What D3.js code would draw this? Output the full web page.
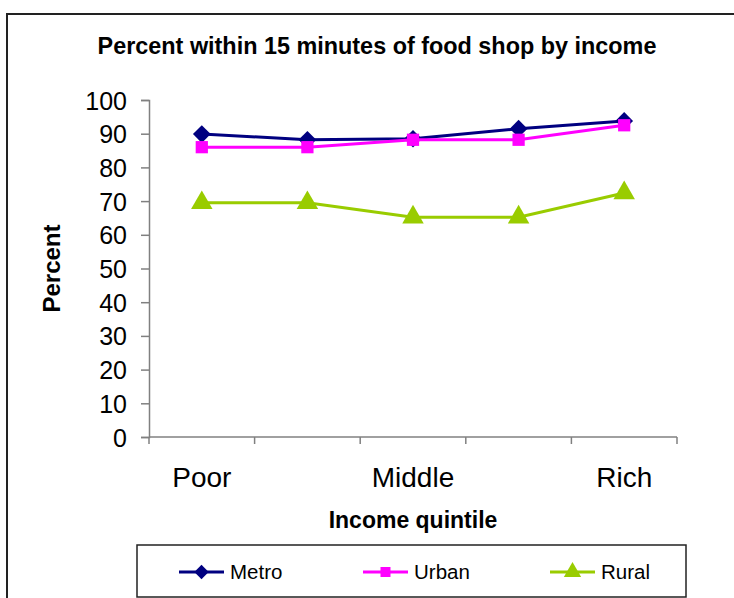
<!DOCTYPE html>
<html>
<head>
<meta charset="utf-8">
<script src="https://cdn.jsdelivr.net/npm/d3@7"></script>
<style>
  body { margin: 0; background: #fff; }
  svg { display: block; font-family: "Liberation Sans", Arial, sans-serif; }
</style>
</head>
<body>
<div id="chart"></div>
<script>
const quintiles = ["Poor", "2", "Middle", "4", "Rich"];
const tickLabels = ["Poor", "", "Middle", "", "Rich"];
const metro = [89.9, 88.2, 88.5, 91.5, 93.8];
const urban = [86.0, 86.0, 88.2, 88.2, 92.5];
const rural = [69.5, 69.5, 65.2, 65.2, 72.4];
const seriesNames = ["Metro", "Urban", "Rural"];
const seriesColors = ["#000080", "#ff00ff", "#99cc00"];
const seriesSymbols = [d3.symbolDiamond2, d3.symbolSquare, d3.symbolTriangle];
const yTicks = [0, 10, 20, 30, 40, 50, 60, 70, 80, 90, 100];

const width = 734, height = 598;
const margin = {left: 149, right: 57, top: 100, bottom: 161};
const plotW = width - margin.left - margin.right;
const plotH = height - margin.top - margin.bottom;

const series = [metro, urban, rural].map((vals, i) => ({
    name: seriesNames[i], color: seriesColors[i], symbol: seriesSymbols[i],
    values: vals.map((v, j) => ({q: quintiles[j], v}))
}));

const svg = d3.select("#chart").append("svg")
    .attr("width", width).attr("height", height);

// outer chart border (runs off right and bottom edges)
svg.append("rect")
    .attr("x", 7).attr("y", 14)
    .attr("width", 760).attr("height", 620)
    .attr("fill", "none").attr("stroke", "#222").attr("stroke-width", 2);

svg.append("text")
    .attr("x", 377).attr("y", 54)
    .attr("text-anchor", "middle")
    .attr("font-weight", "bold").attr("font-size", 23.4)
    .text("Percent within 15 minutes of food shop by income");

const x = d3.scaleBand().domain(quintiles).range([0, plotW]);
const y = d3.scaleLinear().domain([0, 100]).range([plotH, 0]);

const g = svg.append("g").attr("transform", `translate(${margin.left},${margin.top})`);

// y axis
const yAxis = g.append("g")
    .call(d3.axisLeft(y).tickValues(yTicks).tickSize(8).tickPadding(14))
    .attr("font-family", null).attr("font-size", null);
yAxis.selectAll("text").attr("font-size", 25).attr("fill", "#000").attr("dy", "0.36em");
yAxis.selectAll("line, path").attr("stroke", "#808080").attr("stroke-width", 1.5);

// x axis: ticks at band boundaries, labels under band centers
const boundaries = d3.range(quintiles.length + 1).map(i => i * x.step());
const xg = g.append("g").attr("transform", `translate(0,${plotH})`);
xg.append("line").attr("x1", 0).attr("x2", plotW)
    .attr("stroke", "#808080").attr("stroke-width", 1.5);
xg.selectAll(".tk").data(boundaries).enter().append("line")
    .attr("x1", d => d).attr("x2", d => d)
    .attr("y1", 0).attr("y2", 7)
    .attr("stroke", "#808080").attr("stroke-width", 1.5);
xg.selectAll(".lbl").data(quintiles).enter().append("text")
    .attr("x", d => x(d) + x.bandwidth() / 2)
    .attr("y", 50)
    .attr("text-anchor", "middle")
    .attr("font-size", 28)
    .text((d, i) => tickLabels[i]);

// axis titles
svg.append("text")
    .attr("x", margin.left + plotW / 2).attr("y", 528)
    .attr("text-anchor", "middle")
    .attr("font-weight", "bold").attr("font-size", 23)
    .text("Income quintile");

svg.append("text")
    .attr("transform", `translate(60,${margin.top + plotH / 2}) rotate(-90)`)
    .attr("text-anchor", "middle")
    .attr("font-weight", "bold").attr("font-size", 24)
    .text("Percent");

// lines and markers
const line = d3.line()
    .x(d => x(d.q) + x.bandwidth() / 2)
    .y(d => y(d.v));

const sg = g.selectAll(".series").data(series).enter().append("g");
sg.append("path")
    .attr("d", d => line(d.values))
    .attr("fill", "none")
    .attr("stroke", d => d.color)
    .attr("stroke-width", 3);
sg.each(function (s) {
    d3.select(this).selectAll("path.m").data(s.values).enter().append("path")
        .attr("class", "m")
        .attr("d", d3.symbol().type(s.symbol).size(s.symbol === d3.symbolSquare ? 150 : 200))
        .attr("transform", d => `translate(${x(d.q) + x.bandwidth() / 2},${y(d.v)})`)
        .attr("fill", s.color);
});

// legend
const lg = svg.append("g");
lg.append("rect")
    .attr("x", 137).attr("y", 545)
    .attr("width", 549).attr("height", 52)
    .attr("fill", "#fff").attr("stroke", "#222").attr("stroke-width", 1.5);
const legX = [179, 363, 550];
series.forEach((s, i) => {
    const item = lg.append("g").attr("transform", `translate(${legX[i]},572)`);
    item.append("line").attr("x1", 0).attr("x2", 45)
        .attr("stroke", s.color).attr("stroke-width", 3);
    item.append("path")
        .attr("d", d3.symbol().type(s.symbol).size(s.symbol === d3.symbolSquare ? 100 : 130))
        .attr("transform", "translate(22.5,0)")
        .attr("fill", s.color);
    item.append("text")
        .attr("x", 51).attr("y", 7)
        .attr("font-size", 20.5)
        .text(s.name);
});
</script>
</body>
</html>
